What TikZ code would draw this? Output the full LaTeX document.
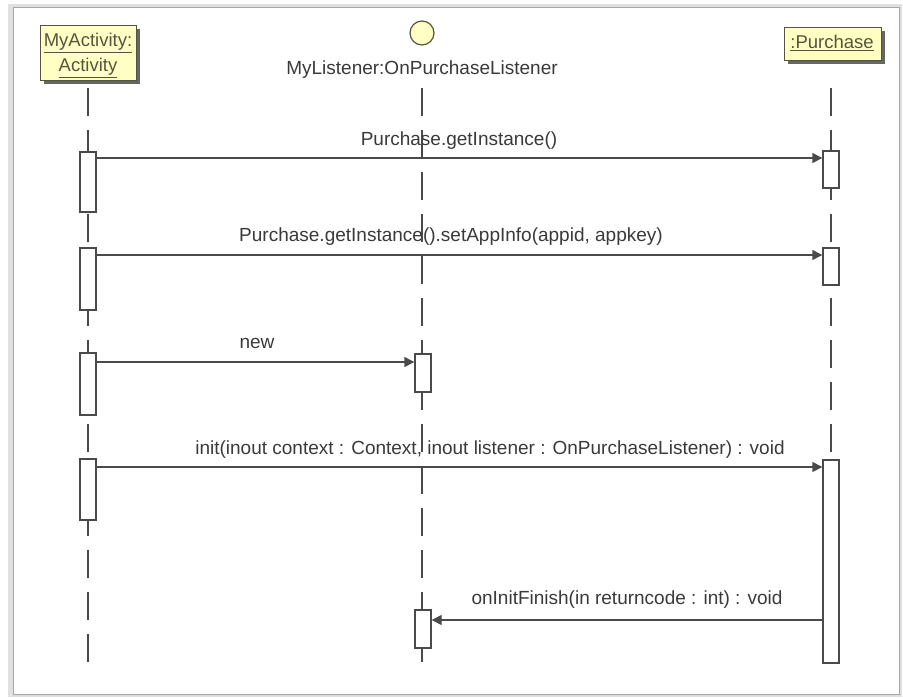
\documentclass[tikz,border=0pt]{standalone}
\usepackage{fontspec}
\setmainfont{Liberation Sans}
\usetikzlibrary{arrows.meta}
\definecolor{boxfill}{HTML}{FFFFC4}
\definecolor{boxline}{HTML}{55553F}
\definecolor{ln}{HTML}{4A4A4A}
\definecolor{txt}{HTML}{3A3A3A}
\tikzset{
  lifeline/.style={draw=ln, line width=1.4pt, dash pattern=on 28pt off 14pt},
  actbox/.style={draw=ln, line width=1.4pt, fill=white},
  msg/.style={draw=ln, line width=1.4pt, -{Triangle[length=10pt,width=10pt]}},
  lbl/.style={text=txt, font=\fontsize{19}{22}\selectfont, inner sep=0pt},
  headbox/.style={draw=boxline, line width=1.2pt, fill=boxfill},
  shadowbox/.style={fill=black!60, draw=none},
  headtxt/.style={text=boxline, font=\fontsize{18.5}{21}\selectfont, inner sep=0pt}
}
\begin{document}
\begin{tikzpicture}[x=1pt,y=-1pt]
\useasboundingbox (0,0) rectangle (903,697);
\fill[white] (0,0) rectangle (903,697);
% frame
\fill[black!12] (8,4) rectangle (902,697);
\fill[white] (13,7) rectangle (899,694);
\draw[black!35, line width=1pt] (13,7) rectangle (899,694);

% lifelines
\draw[lifeline] (88,88) -- (88,676);
\draw[lifeline] (422,88) -- (422,676);
\draw[lifeline] (831,88) -- (831,676);

% heads
\fill[shadowbox] (44,29) rectangle (140,84);
\node[headbox, minimum width=96pt, minimum height=55pt, anchor=north west] (act) at (40,25) {};
\node[headtxt] (act1) at (88,43) {\underline{MyActivity:}};
\node[headtxt] (act2) at (88,68) {\underline{Activity}};

\fill[shadowbox] (788,31) rectangle (885,64);
\node[headbox, minimum width=97pt, minimum height=33pt, anchor=north west] (pur) at (784,27) {};
\node[headtxt] (pur1) at (832,43) {\underline{:Purchase}};

\node[circle, draw=boxline, line width=1.2pt, fill=boxfill, minimum size=24pt, inner sep=0pt] (lis) at (422,33) {};
\node[lbl] (lis1) at (422,70) {MyListener:OnPurchaseListener};

% activations
\node[actbox, minimum width=16pt, minimum height=60pt, inner sep=0pt] (a1) at (88,182) {};
\node[actbox, minimum width=16pt, minimum height=62pt, inner sep=0pt] (a2) at (88,279) {};
\node[actbox, minimum width=16pt, minimum height=62pt, inner sep=0pt] (a3) at (88,384) {};
\node[actbox, minimum width=16pt, minimum height=61pt, inner sep=0pt] (a4) at (88,489.5) {};

\node[actbox, minimum width=16pt, minimum height=37pt, inner sep=0pt] (p1) at (831,169.5) {};
\node[actbox, minimum width=16pt, minimum height=37pt, inner sep=0pt] (p2) at (831,266.5) {};
\node[actbox, minimum width=16pt, minimum height=203pt, inner sep=0pt] (p3) at (831,561.5) {};

\node[actbox, minimum width=16pt, minimum height=38pt, inner sep=0pt] (l1) at (423,373) {};
\node[actbox, minimum width=16pt, minimum height=38pt, inner sep=0pt] (l2) at (423,629) {};

% messages
\draw[msg] (a1.east |- 0,158) coordinate (m1s) -- (p1.west |- m1s);
\node[lbl] (t1) at (459,141) {Purchase.getInstance()};

\draw[msg] (a2.east |- 0,255) coordinate (m2s) -- (p2.west |- m2s);
\node[lbl] (t2) at (451,237) {Purchase.getInstance().setAppInfo(appid, appkey)};

\draw[msg] (a3.east |- 0,362) coordinate (m3s) -- (l1.west |- m3s);
\node[lbl] (t3) at (257,343) {new};

\draw[msg] (a4.east |- 0,467) coordinate (m4s) -- (p3.west |- m4s);
\node[lbl] (t4) at (490,450) {init(inout context : Context, inout listener : OnPurchaseListener) : void};

\draw[msg] (p3.west |- 0,620) coordinate (m5s) -- (l2.east |- m5s);
\node[lbl] (t5) at (627,600) {onInitFinish(in returncode : int) : void};
\end{tikzpicture}
\end{document}
